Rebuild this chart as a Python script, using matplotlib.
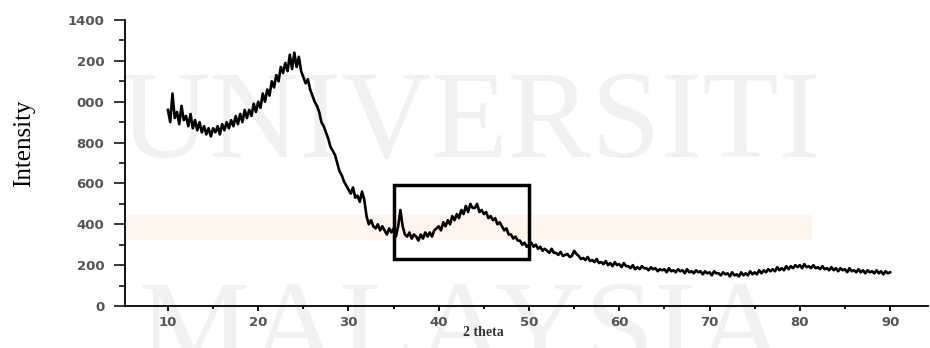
import numpy as np
import matplotlib.pyplot as plt
from matplotlib.patches import Rectangle

# XRD scan, 2 theta from 10 to 90 in 0.25 steps
intensity = [
    960, 900, 1040, 920,   950, 890, 980, 910,   930, 880, 940, 870,
    910, 860, 900, 850,    880, 840, 870, 830,   870, 850, 880, 840,
    890, 860, 900, 870,    910, 880, 930, 890,   940, 900, 960, 920,
    960, 930, 990, 950,    1000, 970, 1040, 1000, 1060, 1030, 1100, 1070,
    1130, 1100, 1170, 1140, 1190, 1150, 1230, 1160, 1240, 1170, 1220, 1150,
    1120, 1090, 1110, 1060, 1030, 1000, 980, 950, 900, 880, 850, 820,
    780, 760, 740, 700,    660, 640, 610, 590,   570, 550, 580, 530,
    540, 510, 560, 520,    440, 400, 420, 390,   380, 400, 370, 390,
    370, 350, 380, 360,    380, 340, 390, 470,   390, 350, 340, 360,
    330, 350, 340, 320,    350, 330, 360, 340,   360, 340, 370, 380,
    390, 370, 410, 390,    420, 400, 440, 420,   450, 430, 470, 450,
    490, 460, 500, 480,    480, 500, 460, 470,   450, 460, 430, 440,
    420, 430, 400, 410,    390, 370, 380, 350,   350, 330, 340, 320,
    320, 300, 310, 290,    300, 310, 290, 300,   280, 290, 270, 280,
    270, 260, 280, 260,    260, 250, 265, 245,   250, 255, 240, 245,
    270, 255, 245, 230,    235, 225, 240, 220,   225, 215, 230, 210,
    215, 205, 220, 200,    210, 195, 215, 200,   205, 190, 210, 195,
    195, 185, 200, 180,    190, 180, 195, 185,   185, 175, 190, 180,
    185, 170, 180, 175,    180, 165, 185, 170,   175, 165, 180, 170,
    175, 160, 180, 165,    170, 160, 175, 165,   170, 155, 170, 160,
    165, 150, 170, 160,    160, 150, 165, 155,   160, 145, 165, 150,
    155, 145, 165, 150,    160, 150, 170, 155,   165, 155, 175, 160,
    175, 165, 180, 170,    180, 170, 190, 175,   185, 175, 195, 180,
    195, 185, 200, 190,    200, 185, 205, 190,   195, 185, 200, 185,
    190, 180, 195, 180,    185, 175, 190, 175,   185, 170, 185, 175,
    180, 165, 185, 170,    175, 165, 180, 165,   175, 160, 175, 165,
    170, 160, 175, 160,    170, 155, 170, 160,   165,
]
two_theta = np.arange(len(intensity)) * 0.25 + 10

# highlighted region
box_x = [35, 50]
box_y = [230, 592]

xticks = [10, 20, 30, 40, 50, 60, 70, 80, 90]
yticks = [0, 200, 400, 600, 800, 1000, 1200, 1400]
ytick_labels = ['0', '200', '400', '600', '800', '000', '200', '1400']

fig = plt.figure(figsize=(9.3, 3.48), dpi=100)
ax = fig.add_axes([125/930, 1 - 306/348, 803/930, 286/348])
ax.set_facecolor('none')
ax.set_zorder(2)

# watermark + tinted band behind everything
fig.text(0.505, 1 - 157/348, 'UNIVERSITI', family='Liberation Serif',
         fontsize=90, color='#f1f1f1', ha='center', va='baseline', zorder=0)
fig.text(0.497, 1 - 367/348, 'MALAYSIA', family='Liberation Serif',
         fontsize=90, color='#f1f1f1', ha='center', va='baseline', zorder=0)
fig.patches.append(Rectangle((126/930, 1 - 239/348), 685/930, 24/348,
                             transform=fig.transFigure, color='#fef5ec',
                             zorder=0))

ax.plot(two_theta, intensity, color='black', lw=1.9)
ax.add_patch(Rectangle((box_x[0], box_y[0]), box_x[1] - box_x[0],
                       box_y[1] - box_y[0], fill=False, ec='black', lw=2.5))

ax.set_xlim(5.24, 94.2)
ax.set_ylim(0, 1400)
ax.set_xticks(xticks)
ax.set_xticks(np.arange(15, 95, 10), minor=True)
ax.set_yticks(yticks)
ax.set_yticklabels(ytick_labels)
ax.set_yticks(np.arange(100, 1400, 200), minor=True)
for s in ['top', 'right']:
    ax.spines[s].set_visible(False)
for s in ['left', 'bottom']:
    ax.spines[s].set_linewidth(1.3)
ax.tick_params(axis='y', which='major', length=8, width=1.1,
               labelsize=9.5, labelcolor='#555555', pad=7)
ax.tick_params(axis='y', which='minor', length=4.5, width=1.1)
ax.tick_params(axis='x', which='major', length=3.5, width=1.3,
               labelsize=9.5, labelcolor='#555555', pad=4)
ax.tick_params(axis='x', which='minor', length=2.5, width=1.3)
for lab in ax.get_xticklabels() + ax.get_yticklabels():
    lab.set_fontweight('bold')

fig.text(483/930, 1 - 333/348, '2 theta', family='Liberation Serif',
         fontsize=10, fontweight='bold', color='#333333',
         ha='center', va='center')
fig.text(24/930, 1 - 143/348, 'Intensity', family='Liberation Serif',
         fontsize=18, rotation=90, ha='center', va='center')

plt.savefig('out.png', dpi=100)
